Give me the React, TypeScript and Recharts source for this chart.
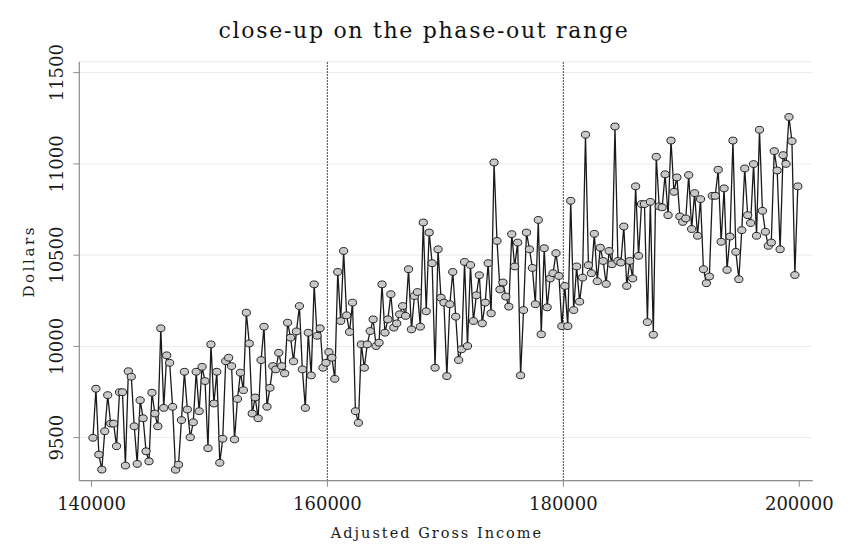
import React from 'react';
import { LineChart, Line, XAxis, YAxis, CartesianGrid, ReferenceLine } from 'recharts';

const chartTitle = 'close-up on the phase-out range';
const xTitle = 'Adjusted Gross Income';
const yTitle = 'Dollars';

const incomeStart = 140125;
const incomeStep = 250;

const dollars = [
  9499, 9768, 9407, 9325, 9535, 9733, 9577, 9577, 9453, 9749,
  9749, 9347, 9864, 9834, 9562, 9356, 9705, 9606, 9425, 9370,
  9746, 9632, 9562, 10099, 9663, 9951, 9910, 9669, 9324, 9352,
  9596, 9861, 9654, 9502, 9584, 9861, 9645, 9888, 9810, 9442,
  10011, 9687, 9861, 9362, 9494, 9919, 9938, 9892, 9490, 9712,
  9856, 9760, 10185, 10016, 9632, 9720, 9606, 9925, 10108, 9669,
  9773, 9892, 9874, 9965, 9892, 9852, 10130, 10048, 9918, 10082,
  10221, 9874, 9663, 10075, 9841, 10340, 10058, 10099, 9883, 9910,
  9969, 9938, 9822, 10408, 10139, 10523, 10170, 10079, 10240, 9645,
  9581, 10011, 9883, 10011, 10084, 10148, 10002, 10020, 10340, 10075,
  10148, 10286, 10103, 10126, 10176, 10221, 10167, 10423, 10093, 10276,
  10298, 10108, 10679, 10192, 10624, 10456, 9883, 10532, 10267, 10240,
  9837, 10231, 10408, 10163, 9925, 9984, 10463, 10002, 10446, 10139,
  10280, 10390, 10126, 10240, 10456, 10181, 11008, 10578, 10312, 10350,
  10273, 10218, 10615, 10438, 10569, 9841, 10199, 10624, 10532, 10430,
  10231, 10693, 10066, 10538, 10214, 10372, 10401, 10511, 10386, 10111,
  10331, 10111, 10798, 10199, 10438, 10245, 10377, 11160, 10445, 10401,
  10617, 10357, 10541, 10468, 10342, 10523, 10450, 11205, 10468, 10459,
  10657, 10331, 10468, 10372, 10877, 10496, 10780, 10780, 10133, 10792,
  10064, 11039, 10767, 10762, 10943, 10719, 11128, 10847, 10926, 10712,
  10682, 10701, 10939, 10643, 10840, 10606, 10807, 10423, 10346, 10383,
  10825, 10825, 10968, 10573, 10866, 10419, 10602, 11128, 10518, 10368,
  10637, 10975, 10719, 10676, 10999, 10606, 11187, 10743, 10628, 10551,
  10569, 11070, 10964, 10532, 11048, 11000, 11257, 11125, 10391, 10877,
];

const xTicks = [140000, 160000, 180000, 200000];
const yTicks = [9500, 10000, 10500, 11000, 11500];
const phaseOutBounds = [160000, 180000];
const xDomain = [138966, 201136];
const yDomain = [9264, 11560];

const data = dollars.map((v, i) => ({ agi: incomeStart + incomeStep * i, dollars: v }));

const FONT = '"DejaVu Serif", serif';
const AXIS_GRAY = '#8c8c8c';

const XTick = (props: any) => {
  const { x, y, payload } = props;
  return (
    <text x={x} y={y + 19} textAnchor="middle" fontFamily={FONT} fontSize={18} fill="#1a1a1a">
      {payload.value}
    </text>
  );
};

const YTick = (props: any) => {
  const { x, y, payload } = props;
  return (
    <text
      x={x}
      y={y}
      textAnchor="middle"
      fontFamily={FONT}
      fontSize={18}
      fill="#1a1a1a"
      transform={`rotate(-90, ${x}, ${y})`}
    >
      {payload.value}
    </text>
  );
};

const Marker = (props: any) => {
  const { cx, cy, index } = props;
  if (cx == null || cy == null) return <g key={`m-${index}`} />;
  return (
    <ellipse
      key={`m-${index}`}
      cx={cx}
      cy={cy}
      rx={4.1}
      ry={3.4}
      fill="#c8c8c8"
      stroke="#222"
      strokeWidth={1}
    />
  );
};

const XTitle = (props: any) => {
  const vb = props.viewBox || {};
  return (
    <text
      x={vb.x + vb.width / 2 - 9}
      y={vb.y + 57}
      textAnchor="middle"
      fontFamily={FONT}
      fontSize={14.5}
      letterSpacing={2}
      fill="#1a1a1a"
    >
      {xTitle}
    </text>
  );
};

const YTitle = (props: any) => {
  const vb = props.viewBox || {};
  const x = vb.x + 15;
  const y = vb.y + vb.height / 2 - 10;
  return (
    <text
      x={x}
      y={y}
      textAnchor="middle"
      fontFamily={FONT}
      fontSize={15}
      letterSpacing={2.6}
      fill="#1a1a1a"
      transform={`rotate(-90, ${x}, ${y})`}
    >
      {yTitle}
    </text>
  );
};

export default function App() {
  return (
    <div style={{ position: 'relative', width: 844, height: 541, background: '#fff' }}>
      <svg
        width={844}
        height={50}
        style={{ position: 'absolute', left: 0, top: 0, pointerEvents: 'none' }}
      >
        <text x={416} y={30} textAnchor="middle" fontFamily={FONT} fontSize={22} letterSpacing={1.7} fill="#111">
          {chartTitle}
        </text>
      </svg>
      <LineChart
        width={844}
        height={541}
        data={data}
        margin={{ top: 53.7, right: 39.3, left: 11.3, bottom: 28.3 }}
      >
        <CartesianGrid vertical={false} stroke="#ebebeb" strokeWidth={1} />
        <XAxis
          dataKey="agi"
          type="number"
          domain={xDomain}
          ticks={xTicks}
          allowDataOverflow
          height={40}
          tickSize={6}
          tickMargin={4}
          stroke={AXIS_GRAY}
          axisLine={{ stroke: AXIS_GRAY, strokeWidth: 1.2 }}
          tickLine={{ stroke: AXIS_GRAY }}
          tick={<XTick />}
          label={<XTitle />}
        />
        <YAxis
          type="number"
          domain={yDomain}
          ticks={yTicks}
          allowDataOverflow
          width={60}
          tickSize={6}
          tickMargin={10}
          stroke={AXIS_GRAY}
          axisLine={{ stroke: AXIS_GRAY, strokeWidth: 1.2 }}
          tickLine={{ stroke: AXIS_GRAY }}
          tick={<YTick />}
          label={<YTitle />}
        />
        {phaseOutBounds.map((b) => (
          <ReferenceLine
            key={b}
            x={b}
            stroke="#333"
            strokeWidth={1.2}
            strokeDasharray="1.5 1.5"
            ifOverflow="hidden"
          />
        ))}
        <Line
          type="linear"
          dataKey="dollars"
          stroke="#1a1a1a"
          strokeWidth={1.3}
          dot={Marker}
          activeDot={false}
          isAnimationActive={false}
        />
      </LineChart>
    </div>
  );
}
